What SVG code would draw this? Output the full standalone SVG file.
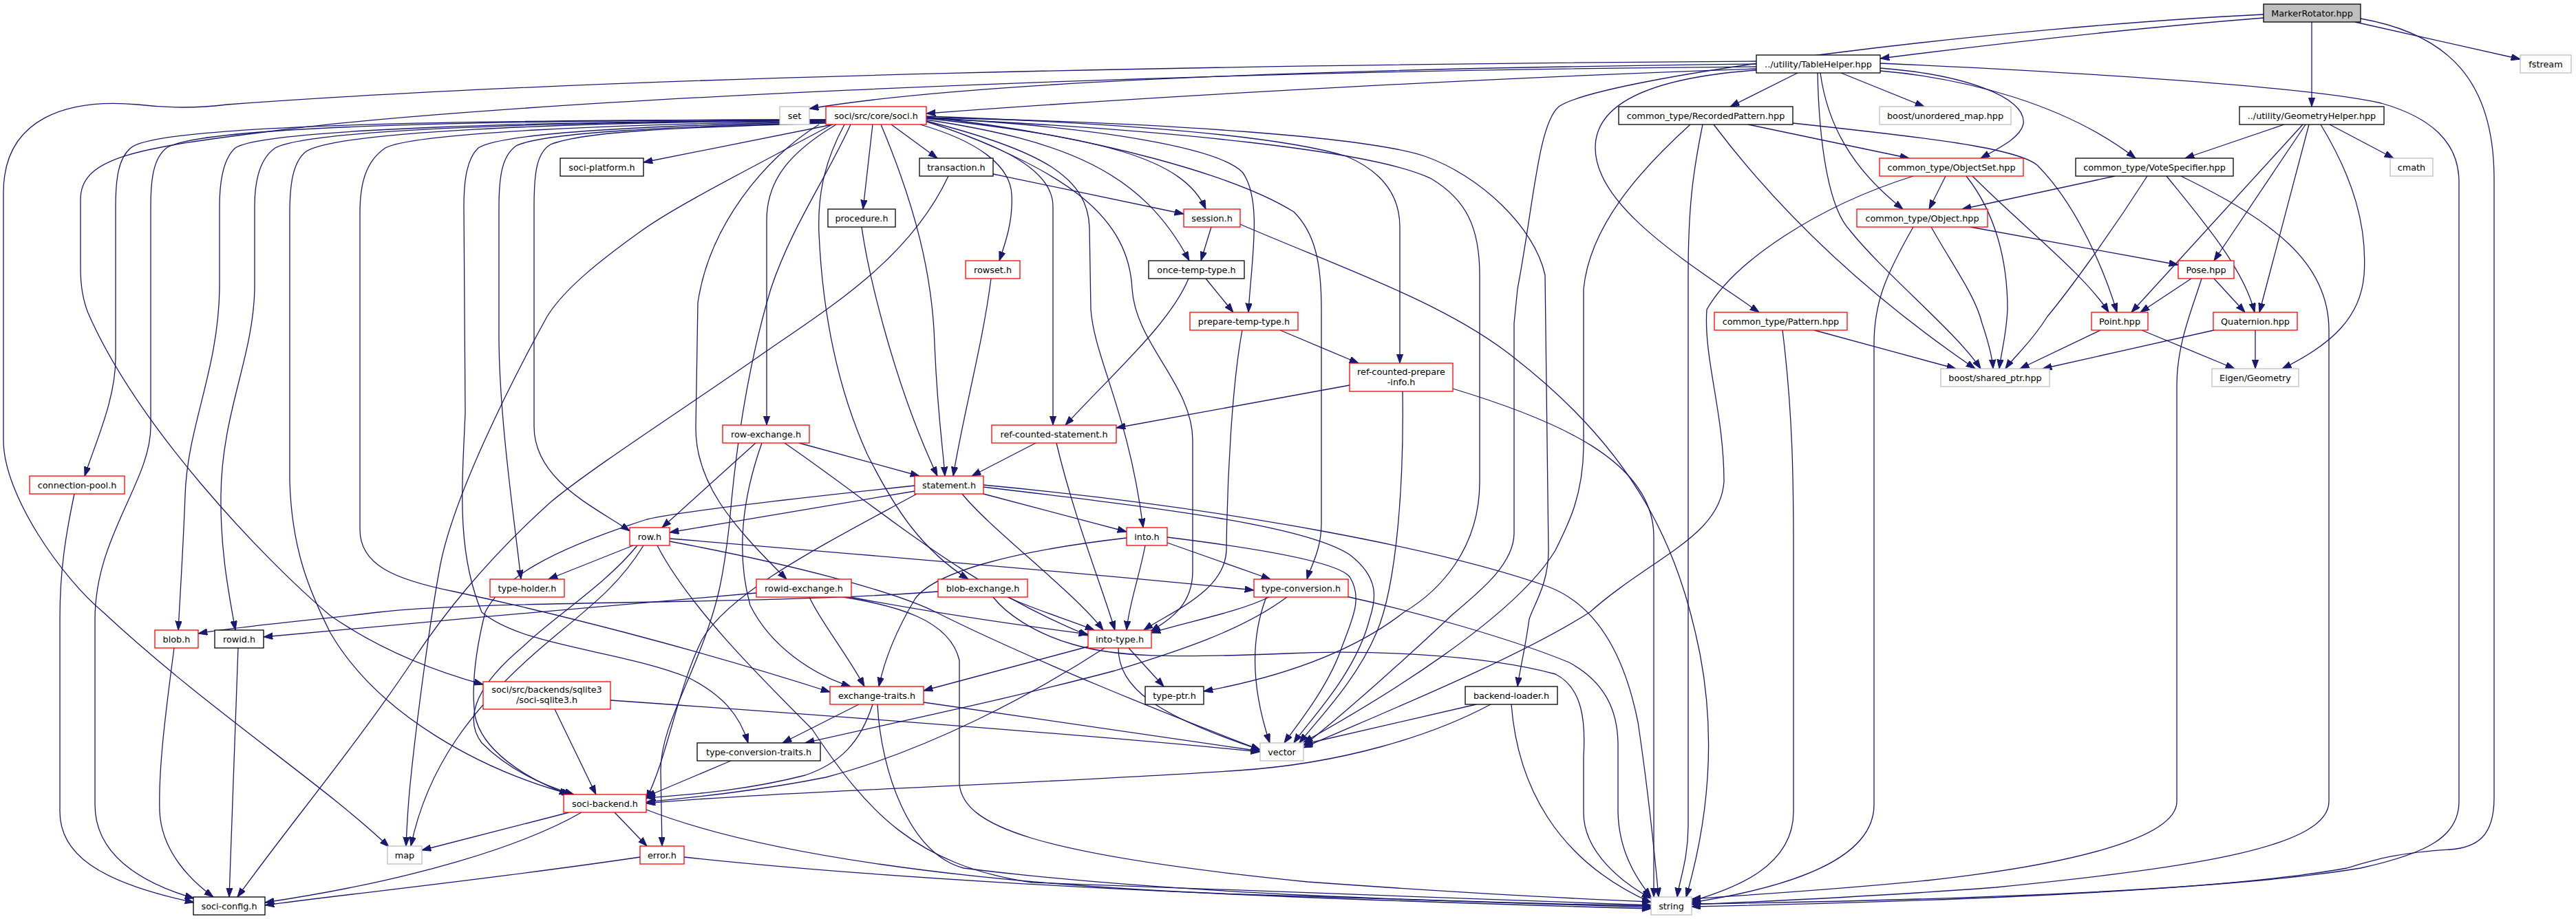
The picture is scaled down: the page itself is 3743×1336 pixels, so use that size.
<svg xmlns="http://www.w3.org/2000/svg" width="3743" height="1336" viewBox="0 0 3743 1336">
<style>
.n rect{fill:#ffffff;stroke-width:1.3}
.doc rect{stroke:#000000}
.trunc rect{stroke:#ff0000}
.ext rect{stroke:#bfbfbf}
.root rect{fill:#bfbfbf;stroke:#000000}
text{font-family:"DejaVu Sans","Liberation Sans",sans-serif;font-size:12.8px;text-anchor:middle;fill:#000000}
#edges path{fill:none;stroke:#191970;stroke-width:1.3;marker-end:url(#arr)}
</style>
<defs>
<marker id="arr" markerWidth="14" markerHeight="10" refX="13.3" refY="4.7" orient="auto" markerUnits="userSpaceOnUse">
<path d="M0,0 L13.3,4.7 L0,9.4 z" fill="#191970" stroke="#191970" stroke-width="1"/>
</marker>
</defs>
<rect width="3743" height="1336" fill="#ffffff"/>
<g id="edges">
<path d="M3289,26 C3050,45 2850,70 2732,85"/>
<path d="M3359,32 L3359,155"/>
<path d="M3422,32 L3662,86"/>
<path d="M3430,27 C3560,50 3624,120 3624,260 L3624,1160 C3624,1215 3600,1232 3560,1235 C3480,1240 3450,1250 3410,1262 C3200,1300 2700,1313 2458,1318"/>
<path d="M3289,21 C2900,40 2330,110 2265,155 C2235,180 2228,300 2205,420 L2200,470 L2200,775 C2200,820 2150,860 2112,892 C2040,960 1950,1040 1894,1084"/>
<path d="M2552,93 C2100,98 1450,112 1176,158"/>
<path d="M2552,100 C2200,112 1700,138 1346,165"/>
<path d="M2552,89 C1800,94 900,110 330,152 C290,157 250,158 200,152 C100,143 5,170 5,280 L5,640 C5,720 90,840 150,890 C300,1030 470,1140 565,1231"/>
<path d="M2552,97 C1600,104 700,150 400,190 C200,215 117,228 117,290 L117,390 C117,420 122,440 128,455 C200,620 380,810 480,895 C560,950 640,978 702,995"/>
<path d="M2612,106 L2514,155"/>
<path d="M2675,106 L2796,155"/>
<path d="M2552,102 C2400,113 2318,150 2318,215 C2318,300 2450,380 2556,454"/>
<path d="M2645,106 C2655,180 2690,245 2765,304"/>
<path d="M2641,106 C2643,200 2655,300 2688,335 C2740,400 2840,480 2878,536"/>
<path d="M2732,92 C3000,104 3350,125 3460,150 C3530,170 3573,205 3573,265 L3573,1165 C3573,1215 3530,1240 3430,1262 C3200,1300 2700,1311 2458,1314"/>
<path d="M2732,99 C2850,108 2945,140 2940,180 C2936,200 2905,215 2878,230"/>
<path d="M2732,103 C2850,113 3000,150 3103,230"/>
<path d="M1210,181 L935,236"/>
<path d="M1295,181 L1362,230"/>
<path d="M1268,181 L1254,304"/>
<path d="M1346,172 C1600,200 1720,230 1752,304"/>
<path d="M1337,181 C1420,205 1468,240 1470,283 C1472,320 1462,350 1452,379"/>
<path d="M1346,174 C1550,205 1660,250 1728,379"/>
<path d="M1346,171 C1600,185 1770,215 1805,250 C1835,290 1818,380 1814,454"/>
<path d="M1346,169 C1600,178 1850,195 1956,227 C2010,250 2034,285 2034,330 L2034,528"/>
<path d="M1346,177 C1450,210 1530,245 1530,300 L1530,618"/>
<path d="M1215,181 C1150,220 1114,260 1114,320 L1114,618"/>
<path d="M1280,181 C1330,300 1355,400 1358,500 C1362,600 1370,650 1373,692"/>
<path d="M1346,176 C1520,220 1580,260 1583,330 L1585,450 C1590,520 1640,600 1661,767"/>
<path d="M1200,179 C1000,185 850,190 800,210 C780,222 776,250 776,300 L776,620 C776,700 870,740 915,772"/>
<path d="M1200,178 C980,184 790,192 750,212 C730,226 725,255 725,300 L725,480 C724,600 748,760 757,842"/>
<path d="M1200,177 C950,182 730,192 695,215 C679,230 674,260 674,300 L676,600 C672,700 662,800 700,890 C760,940 900,945 1000,985 C1050,1010 1075,1040 1087,1080"/>
<path d="M1200,176 C900,180 600,193 560,215 C530,235 523,270 523,310 L523,770 C523,820 570,842 660,860 C800,890 1000,940 1206,1006"/>
<path d="M1200,175 C800,178 490,192 445,220 C425,235 421,270 421,310 L421,700 C424,800 450,860 480,920 C550,1040 700,1120 830,1155"/>
<path d="M1200,175 C800,177 450,188 400,215 C378,230 370,260 370,300 L370,420 C368,520 322,600 321,720 C320,800 332,860 342,916"/>
<path d="M1200,175 C780,176 380,188 342,215 C325,230 319,260 319,300 L319,420 C317,540 272,620 269,720 C266,800 262,860 259,916"/>
<path d="M1200,174 C700,175 290,183 242,215 C223,230 219,260 219,300 L219,620 C219,700 138,780 138,900 L138,1170 C138,1240 200,1282 282,1306"/>
<path d="M1200,174 C700,174 230,180 190,215 C172,230 168,260 168,300 L168,520 C168,580 140,640 123,692"/>
<path d="M1209,181 C1100,240 980,300 930,337 C870,380 820,420 795,460 C740,560 660,720 640,820 C625,900 605,1050 596,1140 C592,1180 591,1205 590,1230"/>
<path d="M1227,181 C1195,240 1188,290 1190,340 C1195,450 1215,560 1260,660 C1300,740 1340,800 1407,842"/>
<path d="M1190,181 C1110,230 1030,330 1014,440 L1011,620 C1010,700 1060,760 1143,842"/>
<path d="M1346,170 C1600,198 1800,258 1880,308 C1910,338 1920,380 1920,450 L1920,760 C1920,800 1905,822 1899,842"/>
<path d="M1346,176 C1560,250 1640,320 1645,420 C1650,500 1733,560 1733,640 L1733,830 C1733,880 1700,900 1672,918"/>
<path d="M1346,172 C1700,188 2000,220 2080,260 C2130,290 2150,330 2150,400 L2150,700 C2150,800 2090,860 2040,890 C1950,960 1830,990 1749,1005"/>
<path d="M1346,171 C1700,178 1990,200 2070,227 C2150,255 2230,330 2245,400 L2250,800 C2250,850 2228,880 2222,900 C2215,950 2208,975 2205,998"/>
<path d="M1236,181 C1200,260 1150,330 1120,420 C1090,520 1070,640 1060,760 C1050,850 1040,880 1030,910 C1000,1000 960,1060 960,1120 L962,1230"/>
<path d="M1443,253 L1720,311"/>
<path d="M1378,256 C1320,380 1200,450 1100,520 C1000,590 860,680 800,730 C700,820 640,900 600,960 C520,1080 420,1200 345,1304"/>
<path d="M1252,330 C1262,400 1300,560 1362,692"/>
<path d="M1440,405 C1428,500 1400,600 1385,692"/>
<path d="M1760,330 L1745,379"/>
<path d="M1802,326 C1950,390 2100,440 2200,520 C2380,660 2440,800 2470,950 C2495,1080 2480,1200 2450,1304"/>
<path d="M1752,405 L1792,454"/>
<path d="M1727,405 C1700,470 1620,540 1548,618"/>
<path d="M1860,480 L1974,528"/>
<path d="M1805,480 C1790,560 1783,700 1782,800 C1780,860 1700,890 1662,916"/>
<path d="M1961,560 L1622,622"/>
<path d="M2038,569 C2040,700 2030,850 2000,920 C1970,990 1920,1040 1888,1080"/>
<path d="M2111,565 C2260,610 2403,670 2403,780 L2403,1304"/>
<path d="M1505,644 L1412,692"/>
<path d="M1535,644 C1560,750 1600,850 1620,916"/>
<path d="M1161,644 L1336,692"/>
<path d="M1098,644 L962,767"/>
<path d="M1107,644 C1080,720 1068,800 1090,880 C1120,940 1180,980 1236,998"/>
<path d="M1140,644 C1280,740 1400,850 1581,924"/>
<path d="M108,718 C95,780 87,830 87,900 L87,1180 C87,1240 140,1282 282,1312"/>
<path d="M1329,714 L973,774"/>
<path d="M1429,718 L1637,773"/>
<path d="M1398,718 C1440,770 1560,860 1603,916"/>
<path d="M1332,718 C1200,790 1060,860 1020,930 C985,1000 970,1100 939,1162"/>
<path d="M1329,706 C1150,725 980,745 940,755 C800,800 730,840 705,890 C690,950 685,1000 690,1040 C700,1090 760,1130 826,1155"/>
<path d="M1429,708 C1700,740 1900,765 1962,807 C2004,840 2000,870 1990,900 C1970,980 1900,1050 1880,1080"/>
<path d="M1429,705 C1800,740 2100,800 2250,853 C2320,880 2360,950 2380,1050 C2395,1150 2405,1250 2410,1304"/>
<path d="M920,793 L797,842"/>
<path d="M973,783 C1300,810 1650,840 1822,858"/>
<path d="M973,787 C1150,820 1300,860 1360,890 C1500,960 1700,1040 1831,1090"/>
<path d="M955,793 C1000,880 1100,980 1180,1060 C1260,1180 1330,1258 1500,1283 C1900,1300 2200,1311 2399,1316"/>
<path d="M926,793 C880,850 800,900 760,940 C700,990 670,1040 700,1080 C740,1120 790,1142 834,1155"/>
<path d="M935,793 C900,850 860,880 800,930 C680,1030 620,1120 597,1230"/>
<path d="M1664,793 C1655,840 1640,880 1637,916"/>
<path d="M1696,789 L1846,842"/>
<path d="M1637,782 C1480,800 1360,830 1330,870 C1300,920 1285,960 1277,998"/>
<path d="M1696,781 C1850,800 1950,820 1962,840 C1980,870 1965,900 1950,940 C1930,1000 1880,1060 1866,1080"/>
<path d="M1099,862 C900,880 600,905 383,926"/>
<path d="M1176,868 C1190,900 1230,950 1256,998"/>
<path d="M1230,867 C1350,890 1450,905 1581,922"/>
<path d="M1225,868 C1300,880 1380,900 1394,960 L1394,1140 C1400,1200 1500,1242 1900,1282 C2150,1300 2300,1307 2399,1311"/>
<path d="M1363,860 C1100,880 700,872 550,890 C450,902 350,910 288,921"/>
<path d="M1464,868 C1500,885 1550,900 1590,916"/>
<path d="M1443,868 C1460,890 1500,920 1560,937 C1620,955 1700,957 1870,950 C1980,945 2150,950 2260,980 C2300,1000 2304,1050 2301,1100 L2301,1180 C2300,1240 2360,1285 2399,1306"/>
<path d="M1844,868 C1800,890 1720,905 1673,920"/>
<path d="M1870,868 C1800,920 1700,950 1620,975 C1450,1020 1300,1050 1170,1080"/>
<path d="M1840,868 C1820,920 1815,990 1845,1080"/>
<path d="M1956,867 C2060,890 2200,930 2280,963 C2330,990 2350,1030 2351,1080 L2351,1180 C2352,1240 2380,1280 2399,1304"/>
<path d="M1581,940 L1342,1004"/>
<path d="M1640,942 L1691,998"/>
<path d="M1625,942 C1625,1000 1680,1040 1831,1090"/>
<path d="M1605,942 C1500,1010 1350,1090 1200,1130 C1100,1150 1000,1160 939,1166"/>
<path d="M1248,1024 L1137,1080"/>
<path d="M1342,1021 L1831,1092"/>
<path d="M1268,1024 C1250,1080 1220,1110 1170,1127 C1080,1150 1000,1155 939,1160"/>
<path d="M1275,1024 C1280,1120 1320,1240 1400,1262 C1700,1300 2100,1311 2399,1317"/>
<path d="M1062,1106 L939,1158"/>
<path d="M827,1181 L613,1236"/>
<path d="M845,1181 C760,1230 600,1280 385,1312"/>
<path d="M893,1181 L940,1230"/>
<path d="M939,1177 C1100,1240 1400,1285 1800,1300 C2100,1310 2300,1315 2399,1319"/>
<path d="M930,1246 C700,1280 500,1300 385,1316"/>
<path d="M994,1246 C1400,1290 2000,1310 2399,1321"/>
<path d="M253,942 C240,1040 230,1120 232,1180 C235,1240 280,1282 310,1304"/>
<path d="M346,942 L333,1304"/>
<path d="M806,1031 L866,1155"/>
<path d="M887,1018 C1200,1040 1600,1070 1831,1093"/>
<path d="M2145,1024 L1894,1082"/>
<path d="M2166,1024 C2080,1070 1950,1110 1800,1120 C1500,1140 1100,1152 939,1168"/>
<path d="M2196,1024 C2205,1140 2260,1250 2399,1312"/>
<path d="M2540,181 L2774,230"/>
<path d="M2605,179 C2800,200 2930,215 2960,240 C3020,300 3060,400 3076,454"/>
<path d="M2490,181 C2580,300 2700,420 2870,536"/>
<path d="M2456,181 C2380,250 2310,330 2301,420 L2301,650 C2300,720 2280,760 2260,800 C2200,900 2000,1020 1894,1079"/>
<path d="M2474,181 C2460,250 2453,300 2453,400 L2453,1200 C2453,1250 2440,1280 2437,1304"/>
<path d="M2636,480 L2842,536"/>
<path d="M2590,480 C2605,600 2606,700 2606,800 L2606,1180 C2606,1260 2520,1292 2458,1310"/>
<path d="M2827,256 L2803,304"/>
<path d="M2866,256 C2940,330 3030,400 3064,454"/>
<path d="M2857,256 C2900,310 2917,380 2917,450 C2915,490 2908,510 2905,536"/>
<path d="M2780,256 C2640,300 2520,380 2480,450 C2475,520 2505,600 2505,700 C2500,780 2400,810 2310,890 C2200,960 2000,1040 1894,1087"/>
<path d="M2863,330 L3165,385"/>
<path d="M2806,330 C2840,390 2870,430 2880,470 C2890,500 2895,520 2896,536"/>
<path d="M2780,330 C2740,400 2723,440 2723,500 L2723,1170 C2723,1250 2600,1290 2458,1312"/>
<path d="M3073,256 L2851,304"/>
<path d="M3120,256 C3060,350 3000,430 2975,460 C2950,500 2925,520 2914,536"/>
<path d="M3148,256 C3200,320 3260,390 3276,454"/>
<path d="M3169,256 C3300,320 3384,380 3384,480 L3384,1165 C3384,1230 3200,1260 2900,1290 C2700,1305 2550,1311 2458,1315"/>
<path d="M3319,181 L3175,230"/>
<path d="M3385,181 L3478,230"/>
<path d="M3346,181 L3097,454"/>
<path d="M3350,181 L3217,379"/>
<path d="M3355,181 L3283,454"/>
<path d="M3372,181 C3420,260 3440,330 3435,400 C3430,460 3390,500 3316,536"/>
<path d="M3184,405 L3110,454"/>
<path d="M3217,405 L3262,454"/>
<path d="M3199,405 C3185,450 3163,500 3163,560 L3163,1165 C3163,1220 3000,1258 2800,1280 C2650,1295 2520,1302 2458,1307"/>
<path d="M3052,480 L2935,536"/>
<path d="M3112,480 L3247,536"/>
<path d="M3217,480 L2968,536"/>
<path d="M3277,480 L3277,536"/>
</g>
<g id="node-MarkerRotator" class="n root"><rect x="3289" y="6" width="141" height="26"/><text x="3359.5" y="23.5">MarkerRotator.hpp</text></g>
<g id="node-TableHelper" class="n doc"><rect x="2552" y="80" width="180" height="26"/><text x="2642" y="97.5">../utility/TableHelper.hpp</text></g>
<g id="node-GeometryHelper" class="n doc"><rect x="3254" y="155" width="210" height="26"/><text x="3359" y="172.5">../utility/GeometryHelper.hpp</text></g>
<g id="node-fstream" class="n ext"><rect x="3662" y="80" width="74" height="26"/><text x="3699" y="97.5">fstream</text></g>
<g id="node-set" class="n ext"><rect x="1133" y="155" width="43" height="26"/><text x="1154.5" y="172.5">set</text></g>
<g id="node-soci" class="n trunc"><rect x="1200" y="155" width="146" height="26"/><text x="1273" y="172.5">soci/src/core/soci.h</text></g>
<g id="node-RecordedPattern" class="n doc"><rect x="2352" y="155" width="253" height="26"/><text x="2478.5" y="172.5">common_type/RecordedPattern.hpp</text></g>
<g id="node-unordered_map" class="n ext"><rect x="2731" y="155" width="191" height="26"/><text x="2826.5" y="172.5">boost/unordered_map.hpp</text></g>
<g id="node-VoteSpecifier" class="n doc"><rect x="3016" y="230" width="229" height="26"/><text x="3130.5" y="247.5">common_type/VoteSpecifier.hpp</text></g>
<g id="node-cmath" class="n ext"><rect x="3473" y="230" width="62" height="26"/><text x="3504" y="247.5">cmath</text></g>
<g id="node-soci-platform" class="n doc"><rect x="814" y="230" width="121" height="26"/><text x="874.5" y="247.5">soci-platform.h</text></g>
<g id="node-transaction" class="n doc"><rect x="1336" y="230" width="107" height="26"/><text x="1389.5" y="247.5">transaction.h</text></g>
<g id="node-ObjectSet" class="n trunc"><rect x="2731" y="230" width="209" height="26"/><text x="2835.5" y="247.5">common_type/ObjectSet.hpp</text></g>
<g id="node-procedure" class="n doc"><rect x="1203" y="304" width="98" height="26"/><text x="1252" y="321.5">procedure.h</text></g>
<g id="node-session" class="n trunc"><rect x="1720" y="304" width="82" height="26"/><text x="1761" y="321.5">session.h</text></g>
<g id="node-Object" class="n trunc"><rect x="2698" y="304" width="190" height="26"/><text x="2793" y="321.5">common_type/Object.hpp</text></g>
<g id="node-rowset" class="n trunc"><rect x="1403" y="379" width="79" height="26"/><text x="1442.5" y="396.5">rowset.h</text></g>
<g id="node-once-temp-type" class="n doc"><rect x="1669" y="379" width="139" height="26"/><text x="1738.5" y="396.5">once-temp-type.h</text></g>
<g id="node-Pose" class="n trunc"><rect x="3165" y="379" width="81" height="26"/><text x="3205.5" y="396.5">Pose.hpp</text></g>
<g id="node-prepare-temp-type" class="n trunc"><rect x="1729" y="454" width="157" height="26"/><text x="1807.5" y="471.5">prepare-temp-type.h</text></g>
<g id="node-Pattern" class="n trunc"><rect x="2491" y="454" width="193" height="26"/><text x="2587.5" y="471.5">common_type/Pattern.hpp</text></g>
<g id="node-Point" class="n trunc"><rect x="3039" y="454" width="82" height="26"/><text x="3080" y="471.5">Point.hpp</text></g>
<g id="node-Quaternion" class="n trunc"><rect x="3216" y="454" width="122" height="26"/><text x="3277" y="471.5">Quaternion.hpp</text></g>
<g id="node-ref-counted-prepare-info" class="n trunc"><rect x="1961" y="528" width="150" height="41"/><text x="2036" y="544.5">ref-counted-prepare</text><text x="2036" y="559.5">-info.h</text></g>
<g id="node-shared_ptr" class="n ext"><rect x="2820" y="536" width="158" height="26"/><text x="2899" y="553.5">boost/shared_ptr.hpp</text></g>
<g id="node-Eigen" class="n ext"><rect x="3214" y="536" width="126" height="26"/><text x="3277" y="553.5">Eigen/Geometry</text></g>
<g id="node-row-exchange" class="n trunc"><rect x="1050" y="618" width="126" height="26"/><text x="1113" y="635.5">row-exchange.h</text></g>
<g id="node-ref-counted-statement" class="n trunc"><rect x="1441" y="618" width="181" height="26"/><text x="1531.5" y="635.5">ref-counted-statement.h</text></g>
<g id="node-connection-pool" class="n trunc"><rect x="43" y="692" width="138" height="26"/><text x="112" y="709.5">connection-pool.h</text></g>
<g id="node-statement" class="n trunc"><rect x="1329" y="692" width="100" height="26"/><text x="1379" y="709.5">statement.h</text></g>
<g id="node-row" class="n trunc"><rect x="915" y="767" width="58" height="26"/><text x="944" y="784.5">row.h</text></g>
<g id="node-into" class="n trunc"><rect x="1637" y="767" width="59" height="26"/><text x="1666.5" y="784.5">into.h</text></g>
<g id="node-type-holder" class="n trunc"><rect x="712" y="842" width="108" height="26"/><text x="766" y="859.5">type-holder.h</text></g>
<g id="node-rowid-exchange" class="n trunc"><rect x="1099" y="842" width="138" height="26"/><text x="1168" y="859.5">rowid-exchange.h</text></g>
<g id="node-blob-exchange" class="n trunc"><rect x="1363" y="842" width="130" height="26"/><text x="1428" y="859.5">blob-exchange.h</text></g>
<g id="node-type-conversion" class="n trunc"><rect x="1822" y="842" width="137" height="26"/><text x="1890.5" y="859.5">type-conversion.h</text></g>
<g id="node-blob" class="n trunc"><rect x="225" y="916" width="63" height="26"/><text x="256.5" y="933.5">blob.h</text></g>
<g id="node-rowid" class="n doc"><rect x="312" y="916" width="71" height="26"/><text x="347.5" y="933.5">rowid.h</text></g>
<g id="node-into-type" class="n trunc"><rect x="1581" y="916" width="92" height="26"/><text x="1627" y="933.5">into-type.h</text></g>
<g id="node-soci-sqlite3" class="n trunc"><rect x="702" y="991" width="185" height="40"/><text x="794.5" y="1007">soci/src/backends/sqlite3</text><text x="794.5" y="1022">/soci-sqlite3.h</text></g>
<g id="node-exchange-traits" class="n trunc"><rect x="1206" y="998" width="136" height="26"/><text x="1274" y="1015.5">exchange-traits.h</text></g>
<g id="node-type-ptr" class="n doc"><rect x="1664" y="998" width="85" height="26"/><text x="1706.5" y="1015.5">type-ptr.h</text></g>
<g id="node-backend-loader" class="n doc"><rect x="2129" y="998" width="134" height="26"/><text x="2196" y="1015.5">backend-loader.h</text></g>
<g id="node-type-conversion-traits" class="n doc"><rect x="1013" y="1080" width="179" height="26"/><text x="1102.5" y="1097.5">type-conversion-traits.h</text></g>
<g id="node-vector" class="n ext"><rect x="1831" y="1080" width="63" height="26"/><text x="1862.5" y="1097.5">vector</text></g>
<g id="node-soci-backend" class="n trunc"><rect x="819" y="1155" width="120" height="26"/><text x="879" y="1172.5">soci-backend.h</text></g>
<g id="node-map" class="n ext"><rect x="563" y="1230" width="50" height="26"/><text x="588" y="1247.5">map</text></g>
<g id="node-error" class="n trunc"><rect x="930" y="1230" width="64" height="26"/><text x="962" y="1247.5">error.h</text></g>
<g id="node-soci-config" class="n doc"><rect x="281" y="1304" width="104" height="26"/><text x="333" y="1321.5">soci-config.h</text></g>
<g id="node-string" class="n ext"><rect x="2399" y="1304" width="59" height="26"/><text x="2428.5" y="1321.5">string</text></g>
</svg>
